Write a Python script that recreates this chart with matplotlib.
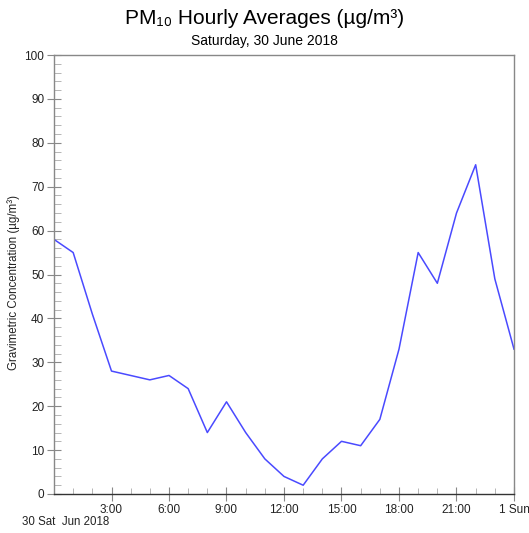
import matplotlib
matplotlib.use("Agg")
import matplotlib.pyplot as plt
from matplotlib.ticker import MultipleLocator

plt.rcParams['font.family'] = ['Liberation Sans', 'DejaVu Sans']

hours = list(range(25))
pm10 = [58, 55, 41, 28, 27, 26, 27, 24, 14, 21, 14, 8, 4, 2, 8, 12, 11, 17, 33, 55, 48, 64, 75, 49, 33]
xtick_pos = [3, 6, 9, 12, 15, 18, 21, 24]
xtick_labels = ["3:00", "6:00", "9:00", "12:00", "15:00", "18:00", "21:00", "1 Sun"]

fig = plt.figure(figsize=(5.29, 5.33), dpi=100)
ax = fig.add_axes([54/529, 1 - 494/533, 460/529, 439/533])

ax.plot(hours, pm10, color='#4a4aff', linewidth=1.1)
ax.set_xlim(0, 24)
ax.set_ylim(0, 100)

for s in ax.spines.values():
    s.set_color('#888888')
    s.set_linewidth(1.0)
ax.spines['bottom'].set_color('#333333')

ax.set_xticks(xtick_pos)
ax.set_xticklabels(xtick_labels, fontsize=8.5, color='#222222')
ax.xaxis.set_minor_locator(MultipleLocator(1))
ax.tick_params(axis='x', which='major', direction='inout', length=10, color='#888888', pad=2)
ax.tick_params(axis='x', which='minor', direction='in', length=4, color='#aaaaaa')

ax.yaxis.set_major_locator(MultipleLocator(10))
ax.yaxis.set_minor_locator(MultipleLocator(2))
ax.tick_params(axis='y', which='major', direction='inout', length=10, color='#888888', labelsize=8.5, labelcolor='#222222', pad=2)
ax.tick_params(axis='y', which='minor', direction='in', length=5, color='#aaaaaa')

fig.text(14/529, 1 - 282/533, "Gravimetric Concentration (µg/m³)", rotation=90, ha='center', va='center', fontsize=8.3, color='#222222')

fig.text(0.5, 1 - 18/533, "PM₁₀ Hourly Averages (µg/m³)", ha='center', va='center', fontsize=15)
fig.text(0.5, 1 - 41/533, "Saturday, 30 June 2018", ha='center', va='center', fontsize=10)
fig.text(22/529, 1 - 522/533, "30 Sat  Jun 2018", ha='left', va='center', fontsize=8.3, color='#222222')

fig.savefig("out.png", dpi=100)
